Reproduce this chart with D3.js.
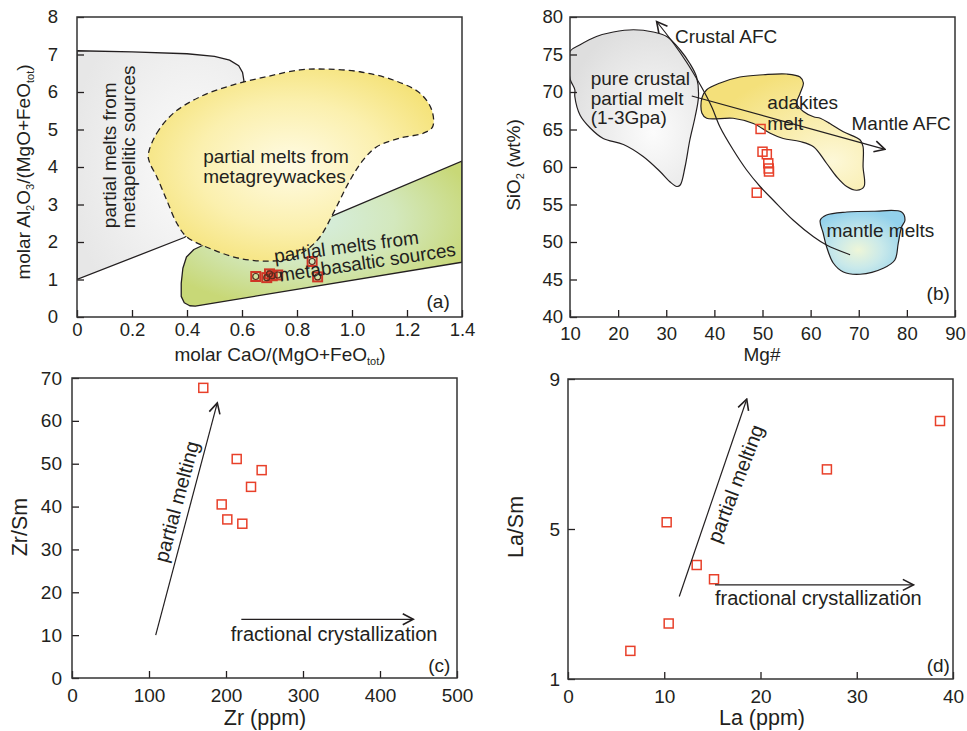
<!DOCTYPE html>
<html><head><meta charset="utf-8">
<script src="https://cdn.jsdelivr.net/npm/d3@7/dist/d3.min.js"></script>
<style>
html,body{margin:0;padding:0;background:#fff;}
svg text{font-family:"Liberation Sans",Arial,Helvetica,sans-serif;fill:#231f20;}
</style></head><body>
<svg id="chart" width="967" height="731"></svg>
<script>
// ================= DATA =================
// ---- Panel (a) ----
const aXTicks=[0,0.2,0.4,0.6,0.8,1.0,1.2,1.4];
const aXTickLabels=["0","0.2","0.4","0.6","0.8","1.0","1.2","1.4"];
const aYTicks=[0,1,2,3,4,5,6,7,8];
const aCaO=[0.65,0.69,0.70,0.71,0.73,0.855,0.875];
const aAl=[1.08,1.05,1.15,1.10,1.12,1.48,1.07];
const aMetapelitic=[[0,1.0],[0.39,2.12],[0.5,2.6],[0.55,4.5],[0.6,6.1],[0.607,6.3],[0.602,6.52],[0.588,6.7],[0.555,6.85],[0.5,6.95],[0.4,7.02],[0.2,7.07],[0,7.1]];
const aMetagreywacke=[[0.259,4.32],[0.29,4.9],[0.35,5.43],[0.447,5.87],[0.568,6.19],[0.69,6.41],[0.811,6.59],[0.908,6.61],[1.029,6.54],[1.15,6.32],[1.247,5.97],[1.29,5.52],[1.293,5.07],[1.259,4.9],[1.175,4.77],[1.09,4.54],[1.041,4.19],[0.993,3.65],[0.932,2.77],[0.884,2.14],[0.835,1.79],[0.775,1.56],[0.69,1.49],[0.593,1.56],[0.496,1.79],[0.399,2.14],[0.363,2.5],[0.326,3.12],[0.29,3.74],[0.265,4.1]];
const aMetabasaltic=[[0.46,1.92],[0.425,1.8],[0.398,1.6],[0.385,1.3],[0.379,0.9],[0.379,0.55],[0.39,0.38],[0.41,0.3],[0.43,0.29],[1.4,1.46],[1.4,4.16],[0.92,2.67],[0.7,2.1]];
const aLabelPelitic=["partial melts from","metapelitic sources"];
const aLabelGreywacke=["partial melts from","metagreywackes"];
const aLabelBasaltic=["partial melts from","metabasaltic sources"];

// ---- Panel (b) ----
const bXTicks=[10,20,30,40,50,60,70,80,90];
const bYTicks=[40,45,50,55,60,65,70,75,80];
const bMg=[49.6,50.0,50.9,51.2,51.3,51.35,48.8];
const bSiO2=[65.07,62.04,61.7,60.49,59.8,59.4,56.57];
const bCrustalMelt=[[10,75.4],[12.1,76.3],[15.5,77.4],[19.0,78.0],[23.2,78.3],[27.3,78.0],[30.1,77.4],[32.9,75.6],[34.9,73.8],[36.3,72.0],[36.7,69.4],[36.0,66.7],[34.9,63.6],[33.9,60.0],[32.9,57.6],[32.2,57.4],[30.8,58.0],[28.7,59.4],[25.2,61.4],[21.1,63.0],[16.9,63.8],[14.2,65.2],[12.1,66.9],[11.0,69.4],[11.0,70.3],[10,71.8]];
const bAdakite=[[37.4,69.2],[38.4,70.3],[41.2,71.2],[45.3,72.0],[50.2,72.3],[55.0,72.4],[57.8,72.0],[58.5,71.2],[57.8,69.8],[57.1,68.5],[58.5,67.4],[60.6,66.7],[62.0,66.5],[64.0,65.8],[66.8,64.7],[70.3,63.6],[70.9,62.7],[70.9,60.0],[71.1,57.4],[69.6,56.9],[67.5,57.4],[65.4,58.7],[63.3,60.5],[60.6,62.7],[57.8,63.4],[54.3,63.8],[51.6,64.5],[48.1,65.8],[43.9,66.5],[38.4,66.5],[37.4,67.2]];
const bMantleMelt=[[62.0,52.9],[63.3,53.6],[67.5,54.0],[73.0,54.1],[78.9,54.0],[79.6,52.9],[78.9,52.0],[78.2,49.8],[77.5,47.6],[75.1,46.5],[70.3,45.7],[66.8,46.0],[64.7,47.2],[63.3,49.4],[62.6,51.2]];
const bCrustalAFC=[[68.2,48.3],[63.3,49.6],[60.6,50.7],[56.4,52.9],[52.2,55.6],[49.5,57.4],[46.7,59.6],[43.9,62.3],[41.2,65.3],[39.6,67.8],[38.4,69.4],[36.3,71.8],[34.2,74.0],[31.5,76.5],[28.0,79.4]];
const bMantleAFC=[[35.3,69.47],[75.45,62.36]];
const bLabels=["Crustal AFC","pure crustal","partial melt","(1-3Gpa)","adakites","melt","Mantle AFC","mantle melts"];

// ---- Panel (c) ----
const cXTicks=[0,100,200,300,400,500];
const cYTicks=[0,10,20,30,40,50,60,70];
const cZr=[170.5,213.9,246.3,232.5,194.4,201.7,221.2];
const cZrSm=[67.7,51.1,48.5,44.6,40.5,37.0,36.0];
const cPartialMelting=[[108.7,10.0],[188.7,64.2]];
const cFractional=[[219.9,13.7],[443.2,13.7]];

// ---- Panel (d) ----
const dXTicks=[0,10,20,30,40];
const dYTicks=[1,5,9];
const dLa=[38.65,26.9,10.25,13.37,15.17,10.46,6.48];
const dLaSm=[7.88,6.59,5.18,4.04,3.66,2.48,1.75];
const dPartialMelting=[[11.56,3.2],[18.57,8.46]];
const dFractional=[[15.27,3.51],[35.88,3.51]];

const trendLabels=["partial melting","fractional crystallization"];

// ================= DRAWING =================
const INK="#231f20";
const RED="#e8402a";
const svg=d3.select("#chart");
const defs=svg.append("defs");

function radial(id,cx,cy,r,stops){
  const gr=defs.append("radialGradient").attr("id",id).attr("cx",cx).attr("cy",cy).attr("r",r);
  stops.forEach(s=>gr.append("stop").attr("offset",s[0]).attr("stop-color",s[1]));
}
radial("gGrayA","70%","50%","75%",[[0,"#fcfcfc"],[1,"#e7e7e7"]]);
radial("gYellowA","50%","50%","60%",[[0,"#fffbe4"],[0.55,"#fbf0ae"],[1,"#f4e174"]]);
radial("gGreenA","45%","40%","62%",[[0,"#d6eee2"],[0.5,"#d3e8bd"],[1,"#c8d877"]]);
radial("gGrayB","65%","65%","70%",[[0,"#fcfcfc"],[1,"#dedede"]]);
radial("gYellowB","80%","75%","80%",[[0,"#fdf8d8"],[1,"#f4e07a"]]);
radial("gBlueB","45%","62%","62%",[[0,"#eef6d8"],[0.45,"#c9e9ea"],[1,"#93d1ec"]]);

defs.append("marker").attr("id","arrow").attr("viewBox","0 0 14 14")
  .attr("refX",12.5).attr("refY",7).attr("markerWidth",14).attr("markerHeight",14)
  .attr("markerUnits","userSpaceOnUse").attr("orient","auto")
  .append("path").attr("d","M2,1.5 L12.5,7 L2,12.5").attr("fill","none")
  .attr("stroke",INK).attr("stroke-width",1.6).attr("stroke-linejoin","miter");

function makePanel(id,xd,xr,yd,yr){
  const x=d3.scaleLinear().domain(xd).range(xr);
  const y=d3.scaleLinear().domain(yd).range(yr);
  defs.append("clipPath").attr("id","clip"+id).append("rect")
    .attr("x",xr[0]).attr("y",yr[1]).attr("width",xr[1]-xr[0]).attr("height",yr[0]-yr[1]);
  const g=svg.append("g");
  const inner=g.append("g").attr("clip-path",`url(#clip${id})`);
  const line=(curve)=>d3.line().x(d=>x(d[0])).y(d=>y(d[1])).curve(curve||d3.curveLinear);
  return {x,y,g,inner,line};
}

function axes(P,xt,xtl,yt,fs,xpad,ypad){
  const ax=d3.axisBottom(P.x).tickValues(xt).tickSize(-7).tickPadding(xpad)
    .tickFormat((d,i)=>xtl?xtl[i]:String(d));
  const ay=d3.axisLeft(P.y).tickValues(yt).tickSize(-7).tickPadding(ypad)
    .tickFormat(d=>String(d));
  const gx=P.g.append("g").attr("transform",`translate(0,${P.y.range()[0]})`).call(ax);
  const gy=P.g.append("g").attr("transform",`translate(${P.x.range()[0]},0)`).call(ay);
  [gx,gy].forEach(a=>{
    a.select(".domain").remove();
    a.selectAll("line").attr("stroke",INK).attr("stroke-width",1.3);
    a.selectAll("text").attr("font-size",fs).attr("font-family",null).attr("fill",INK);
  });
  const xr=P.x.range(), yr=P.y.range();
  P.g.append("rect").attr("x",xr[0]).attr("y",yr[1]).attr("width",xr[1]-xr[0]).attr("height",yr[0]-yr[1])
    .attr("fill","none").attr("stroke","#333").attr("stroke-width",1.5);
}

function txt(sel,x,y,s,fs,opts){
  opts=opts||{};
  const t=sel.append("text").attr("font-size",fs)
    .attr("transform",`translate(${x},${y})`+(opts.rot!=null?` rotate(${opts.rot})`:""))
    .attr("text-anchor",opts.anchor||"start");
  if(opts.dy) t.attr("dy",opts.dy);
  if(typeof s==="string") t.text(s);
  else{
    let shifted=false;
    s.forEach(p=>{
      const ts=t.append("tspan").text(p.t);
      if(p.sub){ ts.attr("font-size",opts.subSize||11); if(!shifted){ts.attr("dy",opts.subShift||4);shifted=true;} }
      else if(shifted){ ts.attr("dy",-(opts.subShift||4)); shifted=false; }
    });
  }
  return t;
}

function squares(P,xs,ys,size,color,sw){
  P.inner.append("g").selectAll("rect").data(d3.range(xs.length)).join("rect")
    .attr("x",i=>P.x(xs[i])-size/2).attr("y",i=>P.y(ys[i])-size/2)
    .attr("width",size).attr("height",size).attr("fill","none")
    .attr("stroke",color).attr("stroke-width",sw);
}

// ---------- Panel (a) ----------
const A=makePanel("a",[0,1.4],[77,462],[0,8],[317,17]);
A.inner.append("path").datum(aMetapelitic).attr("d",A.line(d3.curveLinearClosed))
  .attr("fill","url(#gGrayA)").attr("stroke",INK).attr("stroke-width",1.3);
A.inner.append("path").datum(aMetabasaltic).attr("d",A.line(d3.curveLinearClosed))
  .attr("fill","url(#gGreenA)").attr("stroke",INK).attr("stroke-width",1.3).attr("stroke-linejoin","round");
A.inner.append("path").datum(aMetagreywacke).attr("d",A.line(d3.curveCatmullRomClosed.alpha(0.5)))
  .attr("fill","url(#gYellowA)").attr("stroke",INK).attr("stroke-width",1.3).attr("stroke-dasharray","6,4");

txt(A.g,A.x(0.142),A.y(2.37),aLabelPelitic[0],19,{rot:-90});
txt(A.g,A.x(0.211),A.y(2.37),aLabelPelitic[1],19,{rot:-90});
txt(A.g,A.x(0.459),A.y(4.11),aLabelGreywacke[0],19);
txt(A.g,A.x(0.459),A.y(3.58),aLabelGreywacke[1],19);
txt(A.g,A.x(0.72),A.y(1.45),aLabelBasaltic[0],19,{rot:-7.5});
txt(A.g,A.x(0.738),A.y(0.94),aLabelBasaltic[1],19,{rot:-8.4});

const aPts=A.inner.append("g");
aPts.selectAll("rect").data(d3.range(aCaO.length)).join("rect")
  .attr("x",i=>A.x(aCaO[i])-4.5).attr("y",i=>A.y(aAl[i])-4.5).attr("width",9).attr("height",9)
  .attr("fill","none").attr("stroke","#cf3626").attr("stroke-width",2);
aPts.selectAll("circle").data(d3.range(aCaO.length)).join("circle")
  .attr("cx",i=>A.x(aCaO[i])).attr("cy",i=>A.y(aAl[i])).attr("r",3)
  .attr("fill","none").attr("stroke","#5b2a1e").attr("stroke-width",1.2);

txt(A.g,A.x(1.271),A.y(0.253),"(a)",19);
axes(A,aXTicks,aXTickLabels,aYTicks,18.5,6,19);
txt(A.g,280,361,[{t:"molar CaO/(MgO+FeO"},{t:"tot",sub:true},{t:")"}],19,{anchor:"middle"});
txt(A.g,30,172,[{t:"molar Al"},{t:"2",sub:true},{t:"O"},{t:"3",sub:true},{t:"/(MgO+FeO"},{t:"tot",sub:true},{t:")"}],19,{anchor:"middle",rot:-90});

// ---------- Panel (b) ----------
const B=makePanel("b",[10,90],[570,955],[40,80],[317,17]);
B.inner.append("path").datum(bCrustalMelt).attr("d",B.line(d3.curveCatmullRomClosed.alpha(0.5)))
  .attr("fill","url(#gGrayB)").attr("stroke",INK).attr("stroke-width",1.2);
B.inner.append("path").datum(bAdakite).attr("d",B.line(d3.curveCatmullRomClosed.alpha(0.5)))
  .attr("fill","url(#gYellowB)").attr("stroke",INK).attr("stroke-width",1.2);
B.inner.append("path").datum(bMantleMelt).attr("d",B.line(d3.curveCatmullRomClosed.alpha(0.5)))
  .attr("fill","url(#gBlueB)").attr("stroke",INK).attr("stroke-width",1.2);
B.g.append("path").datum(bCrustalAFC).attr("d",B.line(d3.curveCatmullRom.alpha(0.5)))
  .attr("fill","none").attr("stroke",INK).attr("stroke-width",1.2).attr("marker-end","url(#arrow)");
B.g.append("path").datum(bMantleAFC).attr("d",B.line())
  .attr("fill","none").attr("stroke",INK).attr("stroke-width",1.2).attr("marker-end","url(#arrow)");
squares(B,bMg,bSiO2,9,RED,1.5);

txt(B.g,B.x(31.8),B.y(76.5),bLabels[0],19);
txt(B.g,B.x(14.3),B.y(70.93),bLabels[1],19);
txt(B.g,B.x(14.3),B.y(68.27),bLabels[2],19);
txt(B.g,B.x(14.3),B.y(65.73),bLabels[3],19);
txt(B.g,B.x(51.0),B.y(67.7),bLabels[4],19);
txt(B.g,B.x(51.0),B.y(64.93),bLabels[5],19);
txt(B.g,B.x(68.5),B.y(64.93),bLabels[6],19);
txt(B.g,B.x(63.3),B.y(50.71),bLabels[7],19);
txt(B.g,B.x(84.1),B.y(42.27),"(b)",19);
axes(B,bXTicks,null,bYTicks,18.5,10,7);
txt(B.g,762,361,"Mg#",19,{anchor:"middle"});
txt(B.g,520,165,[{t:"SiO"},{t:"2",sub:true},{t:" (wt%)"}],19,{anchor:"middle",rot:-90});

// ---------- Panel (c) ----------
const C=makePanel("c",[0,500],[72,457],[0,70],[678,378]);
C.g.append("path").datum(cPartialMelting).attr("d",C.line())
  .attr("stroke",INK).attr("stroke-width",1.2).attr("fill","none").attr("marker-end","url(#arrow)");
C.g.append("path").datum(cFractional).attr("d",C.line())
  .attr("stroke",INK).attr("stroke-width",1.2).attr("fill","none").attr("marker-end","url(#arrow)");
squares(C,cZr,cZrSm,9,RED,1.5);
txt(C.g,C.x(137),C.y(41.1),trendLabels[0],20,{rot:-75,anchor:"middle",dy:"0.3em"});
txt(C.g,C.x(206.1),C.y(8.63),trendLabels[1],20);
txt(C.g,C.x(462.7),C.y(1.35),"(c)",19);
axes(C,cXTicks,null,cYTicks,19,10.5,10);
txt(C.g,265,725,"Zr (ppm)",21.5,{anchor:"middle"});
txt(C.g,27,527,"Zr/Sm",21.5,{anchor:"middle",rot:-90});

// ---------- Panel (d) ----------
const D=makePanel("d",[0,40],[568,953],[1,9],[679,379]);
D.g.append("path").datum(dPartialMelting).attr("d",D.line())
  .attr("stroke",INK).attr("stroke-width",1.2).attr("fill","none").attr("marker-end","url(#arrow)");
D.g.append("path").datum(dFractional).attr("d",D.line())
  .attr("stroke",INK).attr("stroke-width",1.2).attr("fill","none").attr("marker-end","url(#arrow)");
squares(D,dLa,dLaSm,9,RED,1.5);
txt(D.g,D.x(17.5),D.y(6.2),trendLabels[0],20,{rot:-69,anchor:"middle",dy:"0.3em"});
txt(D.g,D.x(15.27),D.y(2.97),trendLabels[1],20);
txt(D.g,D.x(37.27),D.y(1.2),"(d)",19);
axes(D,dXTicks,null,dYTicks,19,10.5,8);
txt(D.g,762,725,"La (ppm)",21.5,{anchor:"middle"});
txt(D.g,523,527,"La/Sm",21.5,{anchor:"middle",rot:-90});
</script>
</body></html>
